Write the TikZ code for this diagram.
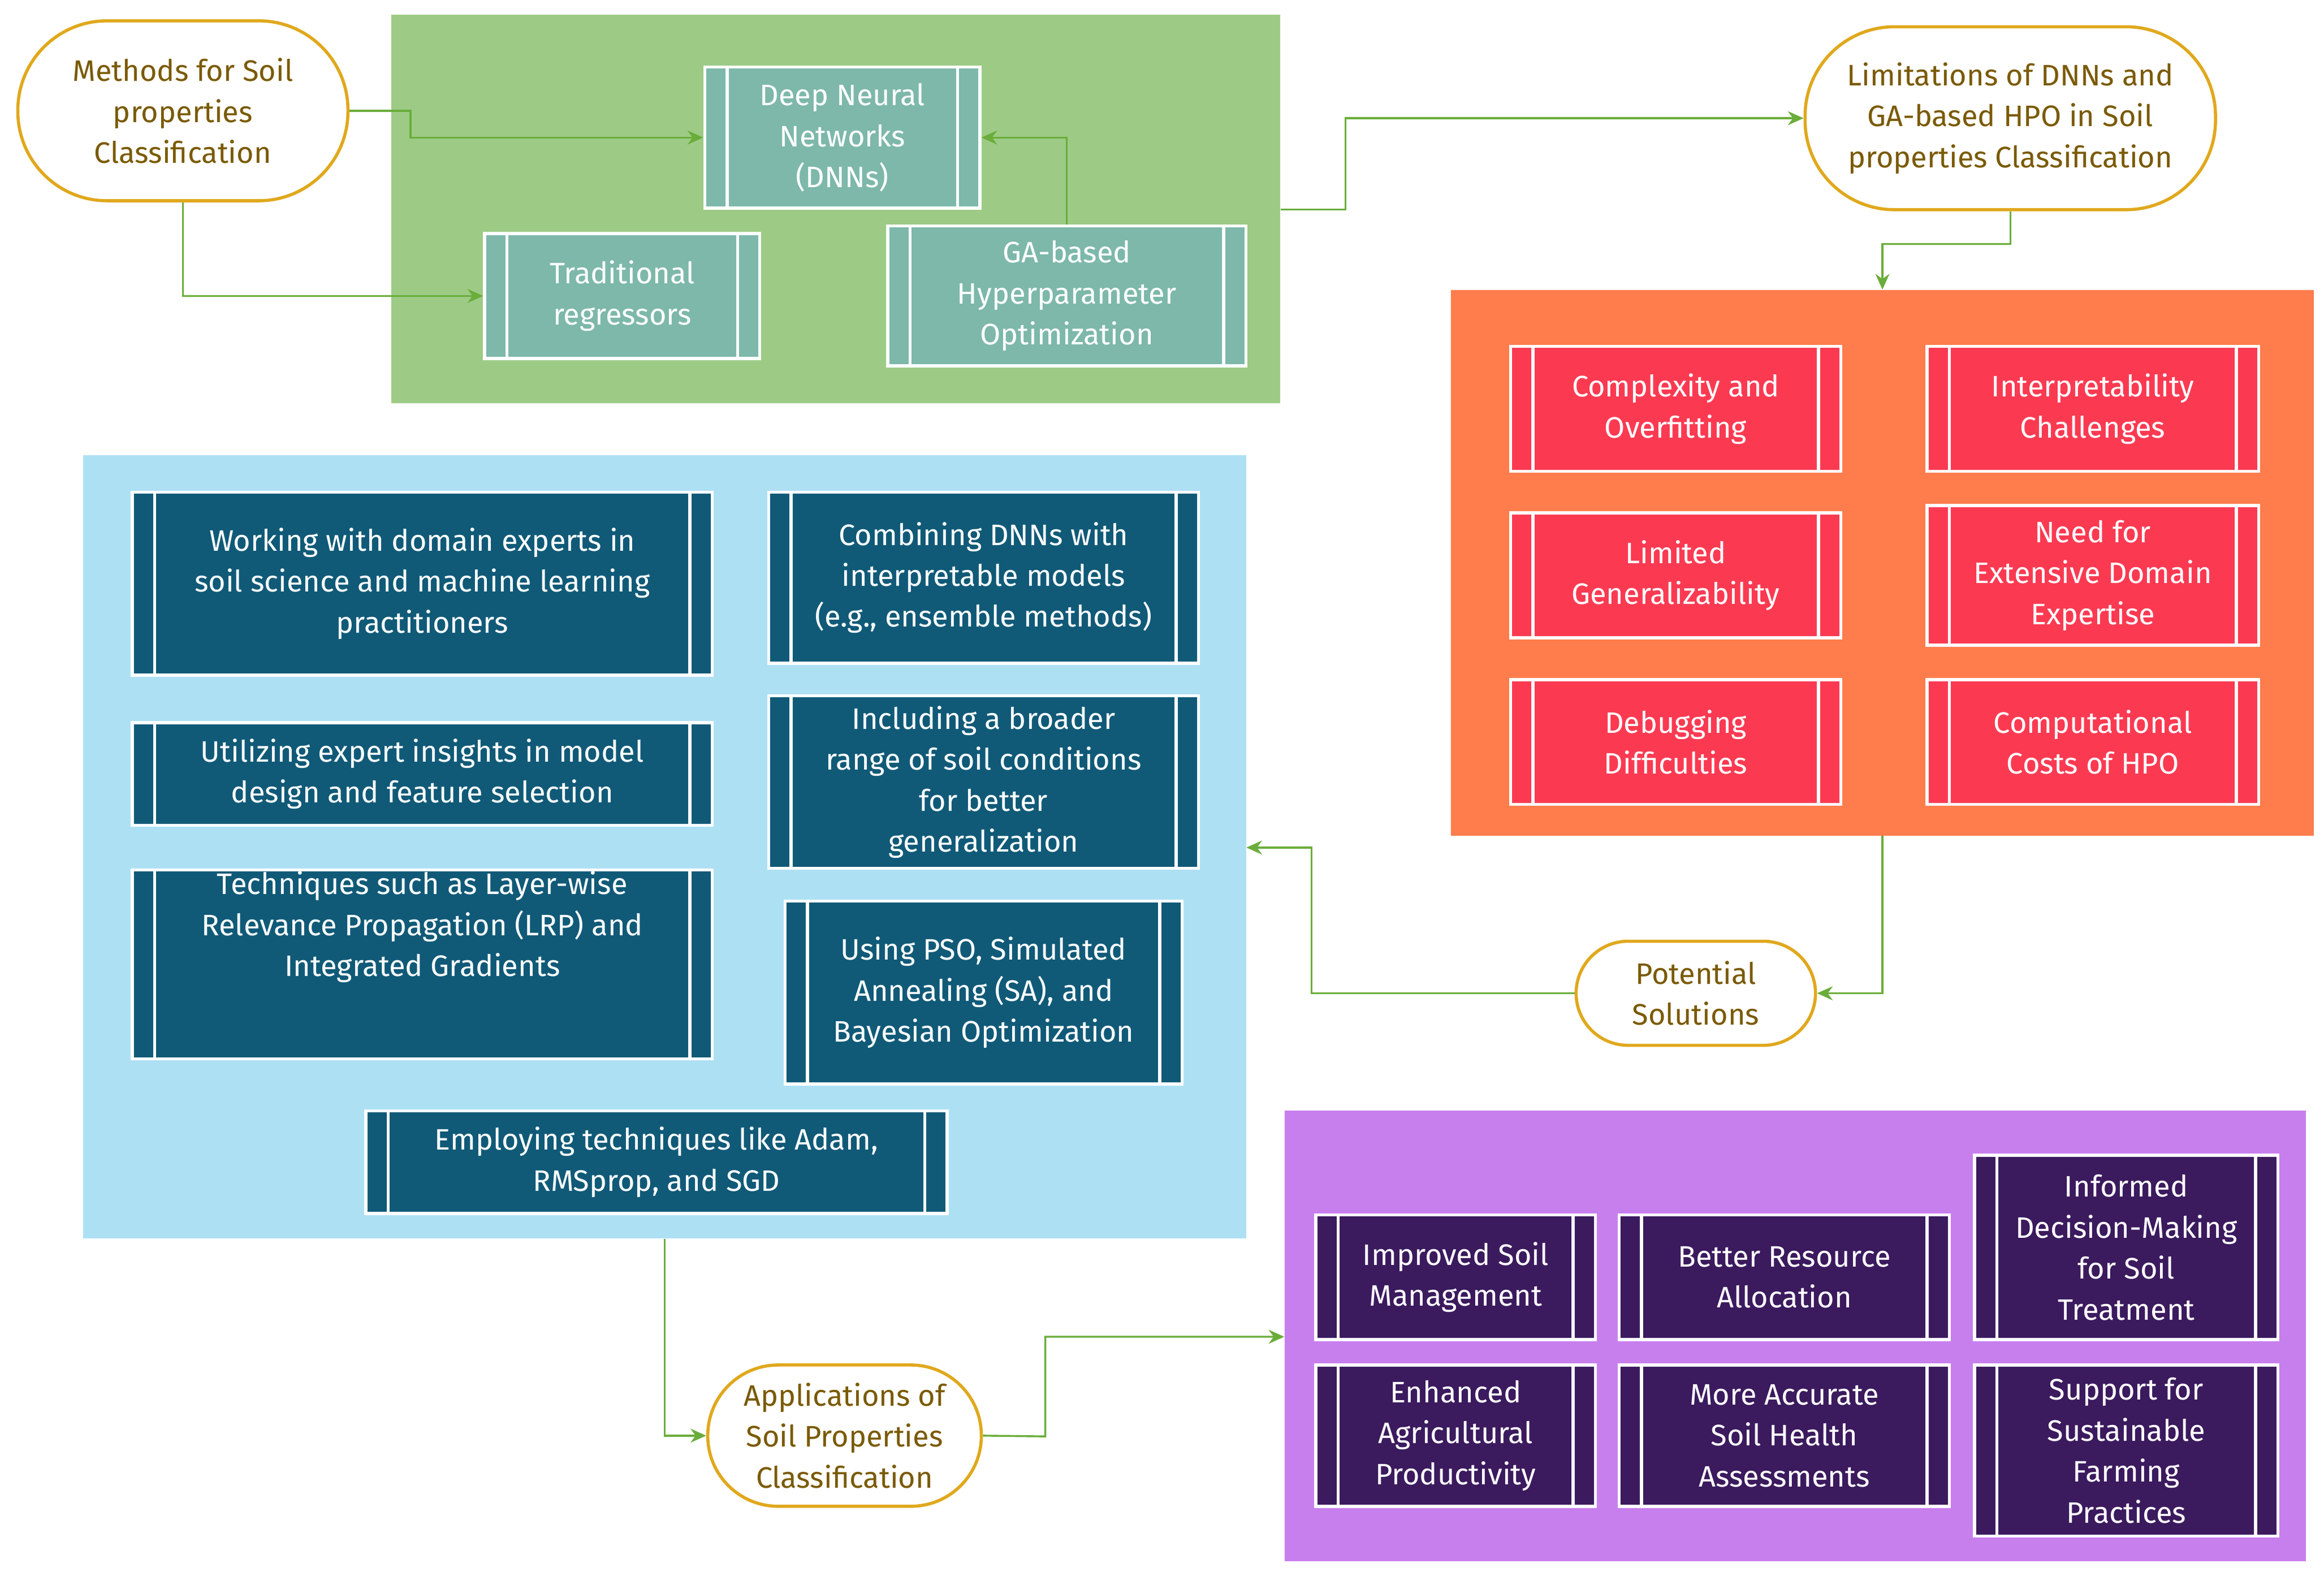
\documentclass[tikz,border=0pt]{standalone}
\usepackage{fontspec}
\setmainfont{Fira Sans}
\usetikzlibrary{arrows.meta}
\definecolor{grn}{HTML}{9DCB86}
\definecolor{teal1}{HTML}{7DB8AA}
\definecolor{orng}{HTML}{FF7C4C}
\definecolor{redb}{HTML}{FB3A52}
\definecolor{blu}{HTML}{AEE0F4}
\definecolor{dteal}{HTML}{105A78}
\definecolor{purp}{HTML}{C87FEE}
\definecolor{dpurp}{HTML}{3B1A5E}
\definecolor{gold}{HTML}{E0A81C}
\definecolor{goldt}{HTML}{7A5A00}
\definecolor{conn}{HTML}{6AAD3A}
\tikzset{
 proc/.style={draw=white,line width=1.8pt,text=white,align=center,
  font=\fontsize{17}{23.5}\selectfont,inner sep=0pt,
  path picture={\draw[white,line width=1.8pt]
   ([xshift=0.45cm]path picture bounding box.north west)--([xshift=0.45cm]path picture bounding box.south west)
   ([xshift=-0.45cm]path picture bounding box.north east)--([xshift=-0.45cm]path picture bounding box.south east);}},
 pill/.style={draw=gold,fill=white,line width=1.8pt,text=goldt,align=center,
  font=\fontsize{17}{23.5}\selectfont,inner sep=0pt},
 area/.style={draw=none,inner sep=0pt},
 con/.style={conn,line width=1.1pt,-{Stealth[length=9pt,width=8pt]}},
}
\newcommand\bx[7]{\node[#2,minimum width={(#5-#3)*0.03cm},minimum height={(#6-#4)*0.03cm}] (#1) at ({(#3+#5)/2},{(#4+#6)/2}) {#7};}
\begin{document}
\begin{tikzpicture}[x=0.03cm,y=-0.03cm]
\useasboundingbox (0,0) rectangle (1563,1057);
% areas
\bx{green}{area,fill=grn}{263}{10}{861}{271}{}
\bx{orange}{area,fill=orng}{976}{195}{1556}{562}{}
\bx{blue}{area,fill=blu}{56}{306}{838}{833}{}
\bx{purple}{area,fill=purp}{864}{747}{1551}{1050}{}
% pills
\bx{methods}{pill,rounded corners=1.8cm}{12}{14}{234}{135}{Methods for Soil\\properties\\Classification}
\bx{limits}{pill,rounded corners=1.8cm}{1214}{18}{1490}{141}{Limitations of DNNs and\\GA-based HPO in Soil\\properties Classification}
\bx{potential}{pill,rounded corners=1.05cm}{1060}{633}{1221}{703}{Potential\\Solutions}
\bx{apps}{pill,rounded corners=1.42cm}{476}{918}{660}{1013}{Applications of\\Soil Properties\\Classification}
% green
\bx{dnn}{proc,fill=teal1}{474}{45}{659}{140}{Deep Neural\\Networks\\(DNNs)}
\bx{trad}{proc,fill=teal1}{326}{157}{511}{241}{Traditional\\regressors}
\bx{ga}{proc,fill=teal1}{597}{152}{838}{246}{GA-based\\Hyperparameter\\Optimization}
% red
\bx{r1}{proc,fill=redb}{1016}{233}{1238}{317}{Complexity and\\Overfitting}
\bx{r2}{proc,fill=redb}{1296}{233}{1519}{317}{Interpretability\\Challenges}
\bx{r3}{proc,fill=redb}{1016}{345}{1238}{429}{Limited\\Generalizability}
\bx{r4}{proc,fill=redb}{1296}{340}{1519}{434}{Need for\\Extensive Domain\\Expertise}
\bx{r5}{proc,fill=redb}{1016}{457}{1238}{541}{Debugging\\Difficulties}
\bx{r6}{proc,fill=redb}{1296}{457}{1519}{541}{Computational\\Costs of HPO}
% blue
\bx{b1}{proc,fill=dteal}{89}{331}{479}{454}{Working with domain experts in\\soil science and machine learning\\practitioners}
\bx{b2}{proc,fill=dteal}{517}{331}{806}{446}{Combining DNNs with\\interpretable models\\(e.g., ensemble methods)}
\bx{b3}{proc,fill=dteal}{89}{486}{479}{555}{Utilizing expert insights in model\\design and feature selection}
\bx{b4}{proc,fill=dteal}{517}{468}{806}{584}{Including a broader\\range of soil conditions\\for better\\generalization}
\bx{b5}{proc,fill=dteal}{89}{585}{479}{712}{Techniques such as Layer-wise\\Relevance Propagation (LRP) and\\Integrated Gradients\\[23pt]}
\bx{b6}{proc,fill=dteal}{528}{606}{795}{729}{Using PSO, Simulated\\Annealing (SA), and\\Bayesian Optimization}
\bx{b7}{proc,fill=dteal}{246}{747}{637}{816}{Employing techniques like Adam,\\RMSprop, and SGD}
% purple
\bx{p1}{proc,fill=dpurp}{885}{817}{1073}{901}{Improved Soil\\Management}
\bx{p2}{proc,fill=dpurp}{1089}{817}{1311}{901}{Better Resource\\Allocation}
\bx{p3}{proc,fill=dpurp}{1328}{777}{1532}{901}{Informed\\Decision-Making\\for Soil\\Treatment}
\bx{p4}{proc,fill=dpurp}{885}{918}{1073}{1013}{Enhanced\\Agricultural\\Productivity}
\bx{p5}{proc,fill=dpurp}{1089}{918}{1311}{1013}{More Accurate\\Soil Health\\Assessments}
\bx{p6}{proc,fill=dpurp}{1328}{918}{1532}{1033}{Support for\\Sustainable\\Farming\\Practices}
% connectors
\draw[con] (methods.east) -- ++(41,0) |- (dnn.west);
\draw[con] (methods.south) |- (trad.west);
\draw[con] (ga.north) |- (dnn.east);
\draw[con] (green.east |- 0,141) -- (905,141) |- (limits.west);
\draw[con] (limits.south) -- ++(0,22) -| (orange.north);
\draw[con] (orange.south) |- (potential.east);
\draw[con] (potential.west) -- (882,668) |- (blue.east |- 0,570);
\draw[con] (blue.south -| 447,0) |- (apps.west);
\draw[con] (apps.east) -- (703,966) |- (purple.west |- 0,899);
\end{tikzpicture}
\end{document}
